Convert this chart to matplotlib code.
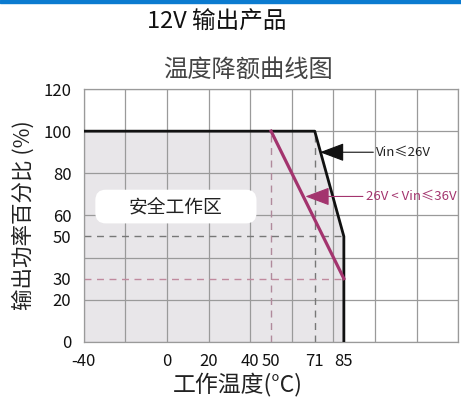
import matplotlib.pyplot as plt
from matplotlib.patches import Rectangle, FancyBboxPatch

plt.rcParams['font.family'] = ['Noto Sans CJK SC', 'DejaVu Sans']
plt.rcParams['axes.unicode_minus'] = False

# derating curves (temperature in C, output in %)
temp_low = [-40, 71, 85, 85]
out_low = [100, 100, 50, 0]
temp_high = [50, 85]
out_high = [100, 30]

x_ticks = [-40, 0, 20, 40, 50, 71, 85]
y_ticks = [0, 20, 30, 50, 60, 80, 100, 120]
grid_x = list(range(-40, 141, 20))
grid_y = list(range(0, 121, 20))

purple = "#a3346e"

fig = plt.figure(figsize=(4.61, 4.03), dpi=100)
fig.patches.append(Rectangle((0, 0.992), 1, 0.008, transform=fig.transFigure,
                             color="#0b7bd0", zorder=0))
fig.text(0.47, 0.945, "12V 输出产品", ha="center", va="center", fontsize=17, color="#111111")
fig.text(0.538, 0.826, "温度降额曲线图", ha="center", va="center", fontsize=17.5,
         color="#444444")

ax = fig.add_axes([0.182, 0.152, 0.812, 0.627])
ax.set_xlim(-40, 140)
ax.set_ylim(0, 120)

# safe zone shading
ax.fill_between(temp_low, out_low, 0, color="#e8e6e9", zorder=0)

for gx in grid_x:
    ax.axvline(gx, color="#9a9a9a", lw=0.9, zorder=1)
for gy in grid_y:
    ax.axhline(gy, color="#9a9a9a", lw=0.9, zorder=1)

# dashed reference lines
ax.plot([50, 50], [0, 100], ls=(0, (5, 4)), color="#b08a9c", lw=1, zorder=2)
ax.plot([71, 71], [0, 100], ls=(0, (5, 4)), color="#777777", lw=1, zorder=2)
ax.plot([-40, 85], [50, 50], ls=(0, (5, 4)), color="#777777", lw=1, zorder=2)
ax.plot([-40, 85], [30, 30], ls=(0, (5, 4)), color="#c08a9e", lw=1, zorder=2)

ax.plot(temp_low, out_low, color="#111111", lw=2, zorder=3)
ax.plot(temp_high, out_high, color=purple, lw=2.3, zorder=3)

ax.annotate("Vin≤26V", xy=(73.5, 90), xytext=(100.5, 90), va="center", ha="left",
            fontsize=9.5, color="#222222",
            arrowprops=dict(arrowstyle="-|>,head_length=1.6,head_width=0.6",
                            color="#111111", lw=0.8, shrinkA=0, shrinkB=0))
ax.annotate("26V < Vin≤36V", xy=(66.5, 69), xytext=(95.5, 69), va="center", ha="left",
            fontsize=9.5, color=purple,
            arrowprops=dict(arrowstyle="-|>,head_length=1.6,head_width=0.6",
                            color=purple, lw=0.8, shrinkA=0, shrinkB=0))

# safe operating area label
ax.add_patch(FancyBboxPatch((-30.5, 60.2), 69.5, 8, zorder=4, fc="white", ec="none",
                            boxstyle="round,pad=4,rounding_size=5"))
ax.text(4.2, 64.2, "安全工作区", ha="center", va="center", fontsize=13.5, color="#222222",
        zorder=5)

ax.set_xticks(x_ticks)
ax.set_yticks(y_ticks)
ax.tick_params(length=0, labelsize=12, colors="#111111")
ax.tick_params(axis="x", pad=8)
ax.tick_params(axis="y", pad=9)
for s in ax.spines.values():
    s.set_color("#9a9a9a")
    s.set_linewidth(0.9)

ax.set_xlabel("工作温度(°C)", fontsize=16.5, color="#222222", labelpad=2, x=0.41)
ax.set_ylabel("输出功率百分比 (%)", fontsize=15.5, color="#222222", labelpad=6)

fig.savefig("out.png", dpi=100)
